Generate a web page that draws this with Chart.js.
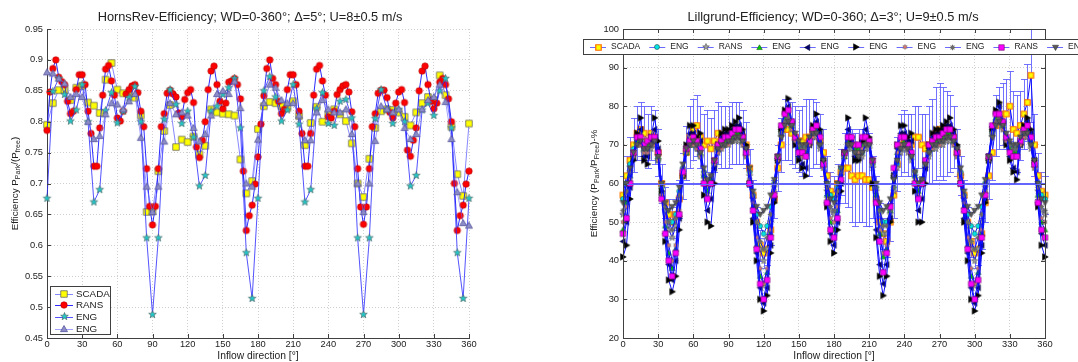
<!DOCTYPE html>
<html><head><meta charset="utf-8">
<script src="https://cdn.jsdelivr.net/npm/chart.js@4.4.1/dist/chart.umd.min.js"></script>
<style>
html,body{margin:0;padding:0;background:#fff;}
#wrap{position:relative;width:1078px;height:362px;overflow:hidden;background:#fff;}
#c1{position:absolute;left:0;top:0;}
#c2{position:absolute;left:540px;top:0;}
</style></head><body>
<div id="wrap"><canvas id="c1" width="540" height="362"></canvas><canvas id="c2" width="538" height="362"></canvas></div>
<script>
// ---------------- LEFT: Horns Rev ----------------
const leftTitle = 'HornsRev-Efficiency; WD=0-360°; Δ=5°; U=8±0.5 m/s';
const leftXLabel = 'Inflow direction [°]';
const leftLabels = ['SCADA', 'RANS', 'ENG', 'ENG'];
const leftYTicks = [0.45, 0.5, 0.55, 0.6, 0.65, 0.7, 0.75, 0.8, 0.85, 0.9, 0.95];
const xTicks = [0, 30, 60, 90, 120, 150, 180, 210, 240, 270, 300, 330, 360];

const dir5 = [0,5,10,15,20,25,30,35,40,45,50,55,60,65,70,75,80,85,90,95,100,105,110,115,120,125,130,135,140,145,150,155,160,165,170,175,180,
185,190,195,200,205,210,215,220,225,230,235,240,245,250,255,260,265,270,275,280,285,290,295,300,305,310,315,320,325,330,335,340,345,350,355,360];
const dir25 = [0,2.5,5,7.5,10,12.5,15,17.5,20,22.5,25,27.5,30,32.5,35,37.5,40,42.5,45,47.5,50,52.5,55,57.5,60,62.5,65,67.5,70,72.5,75,77.5,80,82.5,85,87.5,90,
92.5,95,97.5,100,102.5,105,107.5,110,112.5,115,117.5,120,122.5,125,127.5,130,132.5,135,137.5,140,142.5,145,147.5,150,152.5,155,157.5,160,162.5,165,167.5,170,172.5,175,177.5,180,
182.5,185,187.5,190,192.5,195,197.5,200,202.5,205,207.5,210,212.5,215,217.5,220,222.5,225,227.5,230,232.5,235,237.5,240,242.5,245,247.5,250,252.5,255,257.5,260,262.5,265,267.5,270,
272.5,275,277.5,280,282.5,285,287.5,290,292.5,295,297.5,300,302.5,305,307.5,310,312.5,315,317.5,320,322.5,325,327.5,330,332.5,335,337.5,340,342.5,345,347.5,350,352.5,355,357.5,360];

const hrScada = [0.795,0.830,0.851,0.851,0.835,0.855,0.858,0.831,0.826,0.814,0.868,0.895,0.852,0.846,0.845,0.839,0.810,0.654,0.655,0.720,0.785,0.827,0.759,0.771,0.767,0.776,0.747,0.761,0.820,0.815,0.813,0.812,0.810,0.739,0.684,0.704,0.788,
0.825,0.832,0.830,0.825,0.822,0.833,0.809,0.762,0.798,0.824,0.800,0.813,0.820,0.812,0.801,0.765,0.700,0.678,0.740,0.790,0.817,0.820,0.819,0.815,0.808,0.794,0.815,0.830,0.840,0.835,0.875,0.843,0.792,0.715,0.680,0.797];

const hrRans = [0.786,0.848,0.886,0.900,0.872,0.865,0.860,0.833,0.813,0.817,0.852,0.876,0.876,0.860,0.817,0.781,0.728,0.728,0.790,0.843,0.885,0.891,0.866,0.843,0.806,0.801,0.817,0.845,0.852,0.858,0.860,0.847,0.817,0.792,0.724,0.663,0.633,
0.663,0.724,0.792,0.813,0.846,0.851,0.845,0.840,0.814,0.808,0.836,0.847,0.852,0.831,0.759,0.742,0.770,0.800,0.852,0.882,0.890,0.860,0.833,0.821,0.830,0.864,0.866,0.870,0.860,0.837,0.720,0.624,0.648,0.665,0.699,0.743,
0.796,0.842,0.886,0.900,0.870,0.860,0.833,0.813,0.820,0.852,0.876,0.876,0.860,0.817,0.781,0.728,0.728,0.781,0.843,0.885,0.891,0.866,0.843,0.808,0.806,0.817,0.844,0.852,0.858,0.860,0.848,0.816,0.792,0.724,0.662,0.634,
0.662,0.724,0.792,0.813,0.846,0.851,0.851,0.839,0.815,0.806,0.830,0.848,0.852,0.831,0.754,0.744,0.770,0.790,0.850,0.882,0.890,0.860,0.833,0.821,0.830,0.864,0.870,0.860,0.837,0.800,0.700,0.624,0.648,0.665,0.699,0.720];

const hrEngStar = [0.676,0.849,0.870,0.844,0.801,0.819,0.860,0.800,0.670,0.690,0.818,0.847,0.798,0.817,0.839,0.857,0.800,0.612,0.488,0.612,0.804,0.852,0.828,0.797,0.817,0.775,0.696,0.713,0.817,0.825,0.844,0.855,0.870,0.790,0.588,0.514,0.676,
0.850,0.873,0.840,0.801,0.819,0.860,0.796,0.670,0.690,0.821,0.847,0.797,0.794,0.833,0.836,0.806,0.612,0.488,0.612,0.805,0.852,0.820,0.797,0.820,0.800,0.696,0.713,0.819,0.830,0.810,0.850,0.870,0.790,0.588,0.514,0.676];

const hrEngTri = [0.880,0.878,0.870,0.862,0.840,0.845,0.840,0.800,0.772,0.777,0.812,0.830,0.828,0.820,0.833,0.845,0.774,0.695,0.654,0.695,0.768,0.830,0.812,0.815,0.810,0.790,0.768,0.780,0.810,0.845,0.850,0.845,0.865,0.822,0.700,0.695,0.771,
0.830,0.860,0.855,0.835,0.830,0.830,0.810,0.770,0.770,0.815,0.835,0.820,0.815,0.815,0.820,0.780,0.700,0.654,0.700,0.769,0.825,0.820,0.815,0.820,0.790,0.772,0.780,0.820,0.835,0.840,0.860,0.832,0.772,0.686,0.636,0.632];

// ---------------- RIGHT: Lillgrund ----------------
const rightTitle = 'Lillgrund-Efficiency; WD=0-360; Δ=3°; U=9±0.5 m/s';
const rightXLabel = 'Inflow direction [°]';
const rightLabels = ['SCADA','ENG','RANS','ENG','ENG','ENG','ENG','ENG','RANS','ENG'];
const rightYTicks = [20, 30, 40, 50, 60, 70, 80, 90, 100];

const dir3 = [0,3,6,9,12,15,18,21,24,27,30,33,36,39,42,45,48,51,54,57,60,63,66,69,72,75,78,81,84,87,90,93,96,99,102,105,108,111,114,117,120,123,126,129,132,135,138,141,144,147,150,153,156,159,162,165,168,171,174,177,180,
183,186,189,192,195,198,201,204,207,210,213,216,219,222,225,228,231,234,237,240,243,246,249,252,255,258,261,264,267,270,273,276,279,282,285,288,291,294,297,300,303,306,309,312,315,318,321,324,327,330,333,336,339,342,345,348,351,354,357,360];

const lgScada = [57,62,66,70,73,74,73,71,73,72, 68,60,55,52,50,52,56,62,68,72, 74,75,72,70,71,69,71,73,72,72, 72,73,73,73,72,70,64,57,50,44, 42,43,48,56,64,70,74,74,73,72, 71,71,72,72,73,73,71,68,62,58, 57,
 60,63,64,64,62,61,62,62,61,61, 59,56,50,47,45,50,57,65,70,71, 70,70,72,72,70,69,70,71,73,74, 73,73,73,72,68,62,57,50,45,42, 43,47,55,62,68,75,77,78,78,80, 74,73,75,78,81,88,70,62,58,57];
const lgScadaErr = [5,5,6,7,7,7,7,7,7,7, 6,5,4,4,4,4,5,6,7,8, 8,8,8,8,8,8,8,8,8,8, 8,8,8,8,7,6,5,4,4,4, 4,4,4,5,6,7,8,8,8,8, 8,9,10,10,9,8,7,6,5,5, 5,
 5,6,9,10,12,12,12,12,12,12, 8,6,5,4,4,5,6,7,8,8, 8,8,8,8,8,9,10,11,12,12, 12,11,10,8,6,5,4,4,4,4, 4,4,5,6,7,8,8,8,9,9, 10,10,9,9,10,12,8,6,5,5];
const lgEngCircle = [56,60,65,69,71,71,69,69,70,71, 66,59,53,50,50,52,58,64,68,70, 70,69,67,63,60,61,65,69,70,70, 71,71,72,72,71,68,63,57,52,49, 47,49,54,60,67,73,76,77,75,72, 70,69,69,71,73,73,70,65,60,57, 56,
 59,64,68,70,70,68,67,68,70,70, 65,59,53,50,50,53,59,65,69,70, 69,67,63,60,61,65,68,69,70,71, 71,72,72,71,68,63,57,52,49,47, 49,54,60,67,73,76,77,75,72,70, 69,69,71,73,73,70,65,60,57,56];
const lgRansStar = [52,57,63,67,70,70,68,68,69,70, 66,59,53,48,46,49,56,63,68,70, 70,69,67,62,59,61,65,68,69,70, 70,71,71,71,70,67,62,56,49,43, 40,43,50,59,66,72,75,76,74,71, 69,68,68,70,72,72,69,64,58,53, 52,
 56,62,67,69,69,67,66,67,69,69, 64,58,52,47,47,52,58,64,68,69, 68,66,62,59,60,64,67,69,69,70, 70,71,71,70,67,62,56,49,43,40, 43,50,59,66,72,75,76,74,71,69, 68,68,70,72,72,69,64,58,53,52];
const lgEngGreen = [48,55,62,68,71,71,69,70,71,71, 67,58,49,42,38,43,52,62,68,70, 71,70,68,62,58,61,66,69,70,71, 71,72,73,73,71,68,61,54,44,36, 34,37,47,58,67,74,77,78,75,72, 69,68,68,71,73,74,71,65,57,50, 48,
 53,61,67,71,71,69,69,70,71,71, 66,57,47,41,43,53,62,68,70,71, 70,68,62,58,61,66,69,70,71,71, 72,73,73,71,68,61,54,44,36,34, 37,47,58,67,74,77,78,75,72,69, 68,68,71,73,74,71,65,57,50,48];
const lgEngLeft = [45,50,59,67,72,74,67,67,71,74, 69,57,47,39,35,40,51,62,69,73, 73,71,71,60,53,56,64,69,72,73, 73,74,75,75,73,69,60,51,42,33, 29,33,44,56,66,74,78,80,76,71, 67,65,64,70,74,76,73,66,55,47, 44,
 50,60,68,74,71,67,67,71,74,71, 60,48,39,34,39,51,62,69,73,73, 71,71,60,53,56,64,69,72,73,73, 74,75,75,73,69,60,51,42,33,29, 33,44,56,66,74,78,80,76,71,67, 64,63,70,74,76,73,66,55,47,44];
const lgEngRight = [41,44,56,66,73,77,66,65,72,77, 71,58,45,35,32,36,48,62,70,75, 75,72,73,57,50,49,60,70,73,74, 74,75,76,77,74,70,60,50,40,30, 27,31,42,55,66,74,79,82,76,70, 66,64,62,70,75,78,74,66,54,45, 42,
 48,58,68,77,72,66,66,71,77,72, 60,46,36,31,36,50,62,70,75,75, 72,73,58,50,50,60,70,73,74,74, 75,76,77,74,70,60,50,40,30,27, 31,42,55,66,74,79,81,76,70,66, 63,61,70,75,77,74,66,54,44,41];
const lgEngHex = [50,54,61,67,70,70,68,68,70,70, 66,57,50,44,40,44,53,62,68,70, 70,69,67,61,57,60,65,68,69,70, 70,71,72,72,70,67,61,55,46,38, 34,38,48,58,66,73,76,77,74,71, 68,67,67,70,72,73,70,64,56,51, 50,
 54,61,67,70,70,68,68,69,70,70, 65,56,48,42,44,54,62,68,70,70, 69,67,61,57,60,65,68,69,70,70, 71,72,72,70,67,61,55,46,38,34, 38,48,58,66,73,76,77,74,71,68, 67,67,70,72,73,70,64,56,51,50];
const lgEngGray = [53,58,63,68,70,71,69,69,70,71, 67,60,54,50,48,51,57,64,69,70, 71,70,68,63,60,62,66,69,70,70, 71,71,72,72,71,68,63,57,50,45, 43,46,52,60,67,73,76,77,75,72, 70,69,69,71,73,73,70,65,59,54, 53,
 58,63,68,70,70,68,67,68,70,70, 65,59,53,49,49,53,59,66,69,70, 69,67,63,60,61,65,68,70,70,71, 71,72,72,71,68,63,57,50,45,43, 46,52,60,67,73,76,77,75,72,70, 69,69,71,73,73,70,65,59,54,53];
const lgRansSquare = [47,51,60,68,72,72,70,71,72,72, 68,56,47,40,36,42,52,63,69,71, 72,71,69,60,56,60,66,70,71,72, 72,73,74,74,72,68,60,53,43,34, 30,35,46,57,67,75,78,79,76,72, 68,68,67,71,74,75,72,65,55,48, 46,
 51,61,68,72,72,70,70,72,72,71, 66,55,45,37,42,54,64,70,72,72, 70,68,60,56,60,66,70,71,72,72, 73,74,74,72,68,60,53,43,34,30, 35,46,57,67,75,78,78,76,72,68, 67,67,71,74,75,72,65,55,48,46];
const lgEngDown = [55,60,64,68,70,71,69,69,70,71, 67,60,55,53,54,55,59,65,69,70, 71,70,68,64,61,62,66,69,70,70, 71,71,72,72,71,69,64,58,54,52, 53,54,57,61,67,72,75,76,75,73, 71,70,70,72,73,73,70,66,60,56, 55,
 60,64,68,70,70,68,67,68,70,70, 66,60,55,53,54,56,61,66,69,70, 69,67,63,60,61,65,68,70,70,71, 71,72,72,71,69,64,58,54,52,53, 54,57,61,67,72,75,76,75,73,71, 70,70,72,73,73,70,66,60,56,55];
const refLineX = [0, 360];
const refLineY = [60, 60];

// ---------------- helpers ----------------
const FONT = '"Liberation Sans", Arial, Helvetica, sans-serif';
const TXT = '#222222';
const REFCOL = '#6464ff';
const fnt = s => s + 'px ' + FONT;
Chart.defaults.font.family = FONT;

function mk(shape, size, fill, stroke, lw) {
  const S = Math.ceil(size) + 3;
  const c = document.createElement('canvas'); c.width = S; c.height = S;
  const g = c.getContext('2d'); const m = S / 2, r = size / 2;
  g.beginPath();
  const poly = p => { p.forEach((q, i) => i ? g.lineTo(m + q[0], m + q[1]) : g.moveTo(m + q[0], m + q[1])); g.closePath(); };
  const star = (n, inner) => { const a = []; for (let k = 0; k < 2 * n; k++) { const ang = -Math.PI / 2 + k * Math.PI / n; const rr = k % 2 ? r * inner : r; a.push([rr * Math.cos(ang), rr * Math.sin(ang)]); } poly(a); };
  switch (shape) {
    case 'square': g.rect(m - r, m - r, size, size); break;
    case 'circle': g.arc(m, m, r, 0, 2 * Math.PI); break;
    case 'triUp': poly([[0, -r], [r, r * 0.75], [-r, r * 0.75]]); break;
    case 'triDown': poly([[0, r], [r, -r * 0.75], [-r, -r * 0.75]]); break;
    case 'triLeft': poly([[-r, 0], [r * 0.75, -r], [r * 0.75, r]]); break;
    case 'triRight': poly([[r, 0], [-r * 0.75, -r], [-r * 0.75, r]]); break;
    case 'star5': star(5, 0.42); break;
    case 'star6': star(6, 0.55); break;
    case 'asterisk':
      for (let k = 0; k < 4; k++) { const a = k * Math.PI / 4; g.moveTo(m - r * Math.cos(a), m - r * Math.sin(a)); g.lineTo(m + r * Math.cos(a), m + r * Math.sin(a)); }
      break;
  }
  if (fill) { g.fillStyle = fill; g.fill(); }
  if (stroke) { g.strokeStyle = stroke; g.lineWidth = lw || 1; g.stroke(); }
  return c;
}
const pts = (xs, ys) => xs.map((x, i) => ({ x: x, y: ys[i] }));

function drawRotated(ctx, cx, cy, parts, size) {
  ctx.save();
  ctx.translate(cx, cy); ctx.rotate(-Math.PI / 2);
  ctx.fillStyle = TXT; ctx.textBaseline = 'middle'; ctx.textAlign = 'left';
  const sub = size * 0.72; let total = 0;
  const w = parts.map(p => { ctx.font = fnt(p.sub ? sub : size); const m = ctx.measureText(p.t).width; total += m; return m; });
  let x = -total / 2;
  parts.forEach((p, i) => { ctx.font = fnt(p.sub ? sub : size); ctx.fillText(p.t, x, p.sub ? size * 0.35 : 0); x += w[i]; });
  ctx.restore();
}

const decoCfg = {};

const decor = {
  id: 'decor',
  beforeDatasetsDraw(chart) {
    const o = decoCfg[chart.canvas.id]; if (!o || !o.errors) return;
    const e = o.errors, ctx = chart.ctx, xs = chart.scales.x, ys = chart.scales.y;
    ctx.save(); ctx.setLineDash([]); ctx.strokeStyle = e.color; ctx.lineWidth = 1;
    for (let i = 0; i < e.x.length; i++) {
      const px = Math.round(xs.getPixelForValue(e.x[i])) + 0.5;
      const t = Math.round(ys.getPixelForValue(e.y[i] + e.err[i])) + 0.5;
      const b = Math.round(ys.getPixelForValue(e.y[i] - e.err[i])) + 0.5;
      ctx.beginPath();
      ctx.moveTo(px, t); ctx.lineTo(px, b);
      ctx.moveTo(px - 3.5, t); ctx.lineTo(px + 3.5, t);
      ctx.moveTo(px - 3.5, b); ctx.lineTo(px + 3.5, b);
      ctx.stroke();
    }
    ctx.restore();
  },
  afterDatasetsDraw(chart) {
    const o = decoCfg[chart.canvas.id]; if (!o || o.refIndex === undefined) return;
    // re-stroke the reference line from the library's own point elements
    const meta = chart.getDatasetMeta(o.refIndex);
    if (!meta || !meta.data || meta.data.length < 2) return;
    const ctx = chart.ctx;
    ctx.save(); ctx.setLineDash([]); ctx.strokeStyle = REFCOL; ctx.lineWidth = 1;
    ctx.beginPath();
    meta.data.forEach((p, i) => { const y = Math.round(p.y) + 0.5; i ? ctx.lineTo(p.x, y) : ctx.moveTo(p.x, y); });
    ctx.stroke(); ctx.restore();
  },
  afterDraw(chart) {
    const o = decoCfg[chart.canvas.id]; if (!o) return;
    const ctx = chart.ctx, a = chart.chartArea, xs = chart.scales.x, ys = chart.scales.y;
    ctx.save();
    ctx.setLineDash([]);
    ctx.strokeStyle = '#404040'; ctx.lineWidth = 1;
    xs.ticks.forEach(t => { const p = Math.round(xs.getPixelForValue(t.value)) + 0.5;
      ctx.beginPath(); ctx.moveTo(p, a.bottom); ctx.lineTo(p, a.bottom - 4); ctx.stroke();
      if (o.box) { ctx.beginPath(); ctx.moveTo(p, a.top); ctx.lineTo(p, a.top + 4); ctx.stroke(); } });
    ys.ticks.forEach(t => { const p = Math.round(ys.getPixelForValue(t.value)) + 0.5;
      ctx.beginPath(); ctx.moveTo(a.left, p); ctx.lineTo(a.left + 4, p); ctx.stroke();
      if (o.box) { ctx.beginPath(); ctx.moveTo(a.right, p); ctx.lineTo(a.right - 4, p); ctx.stroke(); } });
    if (o.box) { ctx.strokeRect(Math.round(a.left) + 0.5, Math.round(a.top) + 0.5, Math.round(a.right - a.left), Math.round(a.bottom - a.top)); }
    ctx.fillStyle = TXT; ctx.font = fnt(o.title.size); ctx.textAlign = 'center'; ctx.textBaseline = 'middle';
    ctx.fillText(o.title.text, o.title.x, o.title.y);
    drawRotated(ctx, o.ytitle.x, (a.top + a.bottom) / 2, o.ytitle.parts, o.ytitle.size);
    const L = o.legend;
    ctx.fillStyle = '#fff'; ctx.fillRect(L.x, L.y, L.w, L.h);
    ctx.strokeStyle = '#404040'; ctx.lineWidth = 1; ctx.strokeRect(L.x + 0.5, L.y + 0.5, L.w, L.h);
    ctx.font = fnt(L.size); ctx.textAlign = 'left'; ctx.textBaseline = 'middle';
    if (L.vertical) {
      L.items.forEach((it, i) => {
        const y = L.y + L.first + i * L.step, yl = Math.round(y) + 0.5;
        ctx.strokeStyle = it.line; ctx.beginPath(); ctx.moveTo(L.x + 5, yl); ctx.lineTo(L.x + 23, yl); ctx.stroke();
        ctx.drawImage(it.marker, Math.round(L.x + 14 - it.marker.width / 2), Math.round(y - it.marker.height / 2));
        ctx.fillStyle = TXT; ctx.fillText(it.label, L.x + 26, y + 0.5);
      });
    } else {
      let cx = L.x + L.start; const y = L.y + L.h / 2 + 0.5, yl = Math.round(y) + 0.5;
      L.items.forEach(it => {
        ctx.strokeStyle = it.line; ctx.beginPath(); ctx.moveTo(cx, yl); ctx.lineTo(cx + 16, yl); ctx.stroke();
        ctx.drawImage(it.marker, Math.round(cx + 8 - it.marker.width / 2), Math.round(y - it.marker.height / 2));
        ctx.fillStyle = TXT; ctx.fillText(it.label, cx + 21, y);
        cx += 21 + ctx.measureText(it.label).width + 9;
      });
    }
    ctx.restore();
  }
};

function baseScales(xlabel, ymin, ymax, ystep, yw, yfmt) {
  const gridCol = '#d0d0d0';
  return {
    x: { type: 'linear', min: 0, max: 360,
      ticks: { stepSize: 30, autoSkip: false, maxRotation: 0, padding: 1, font: { size: 9.3 }, color: TXT },
      grid: { color: gridCol, drawTicks: false, lineWidth: 1 },
      border: { display: true, color: '#404040', width: 1, dash: [1, 2] },
      title: { display: true, text: xlabel, font: { size: 10.3 }, color: TXT, padding: { top: 0, bottom: 0 } },
      afterFit: s => { s.height = 24; } },
    y: { type: 'linear', min: ymin, max: ymax,
      ticks: { stepSize: ystep, padding: 4, font: { size: 9.3 }, color: TXT, callback: yfmt },
      grid: { color: gridCol, drawTicks: false, lineWidth: 1 },
      border: { display: true, color: '#404040', width: 1, dash: [1, 2] },
      afterFit: s => { s.width = yw; } }
  };
}

// ---- left chart ----
const mL = {
  scada: mk('square', 6.5, '#ffff00', '#666666', 0.8),
  rans: mk('circle', 6.5, '#ff0000', '#b00000', 0.6),
  star: mk('star5', 8, '#22c8c8', '#4a6a6a', 0.7),
  tri: mk('triUp', 7, '#8c8cc8', '#55559a', 0.8)
};
const lineL = { scada: 'rgba(70,70,255,0.65)', rans: 'rgba(20,20,255,0.9)', star: 'rgba(40,40,255,0.8)', tri: 'rgba(100,100,255,0.6)' };
const dsL = (label, xs, ys, marker, col) => ({ label, data: pts(xs, ys), borderColor: col, borderWidth: 1, pointStyle: marker, pointRadius: 3.5, tension: 0, clip: false, fill: false });

decoCfg.c1 = {
  box: false,
  title: { text: leftTitle, x: 250, y: 17, size: 12.8 },
  ytitle: { x: 15, size: 9.8, parts: [{ t: 'Efficiency P' }, { t: 'Park', sub: true }, { t: '/(P' }, { t: 'free', sub: true }, { t: ')' }] },
  legend: { vertical: true, x: 50, y: 286, w: 60, h: 48, first: 7.5, step: 11.7, size: 9.8,
    items: [
      { label: leftLabels[0], marker: mL.scada, line: lineL.scada },
      { label: leftLabels[1], marker: mL.rans, line: lineL.rans },
      { label: leftLabels[2], marker: mL.star, line: lineL.star },
      { label: leftLabels[3], marker: mL.tri, line: lineL.tri }
    ] }
};

new Chart(document.getElementById('c1'), {
  type: 'line',
  data: { datasets: [
    dsL(leftLabels[3], dir5, hrEngTri, mL.tri, lineL.tri),
    dsL(leftLabels[2], dir5, hrEngStar, mL.star, lineL.star),
    dsL(leftLabels[1], dir25, hrRans, mL.rans, lineL.rans),
    dsL(leftLabels[0], dir5, hrScada, mL.scada, lineL.scada)
  ] },
  options: {
    responsive: false, animation: false, devicePixelRatio: 1, events: [],
    layout: { padding: { left: 0, right: 71, top: 29, bottom: 0 } },
    scales: baseScales(leftXLabel, leftYTicks[0], leftYTicks[leftYTicks.length - 1], 0.05, 47, v => String(parseFloat(Number(v).toFixed(2)))),
    plugins: { legend: { display: false }, tooltip: { enabled: false } }
  },
  plugins: [decor]
});

// ---- right chart ----
const mR = [
  mk('square', 5.5, '#ffff00', '#ff6a00', 1.2),
  mk('circle', 5, '#00e5e5', '#2a4a4a', 0.6),
  mk('star5', 7, '#a0a0a0', '#505050', 0.6),
  mk('triUp', 5.5, '#00cc00', '#1c5a1c', 0.6),
  mk('triLeft', 6, '#00006e', '#000030', 0.6),
  mk('triRight', 6.5, '#000000', '#000000', 0.6),
  mk('star6', 5, '#e07070', '#707070', 0.6),
  mk('asterisk', 5.5, null, '#6a6a6a', 1.1),
  mk('square', 5.5, '#ff00ff', '#6a006a', 0.6),
  mk('triDown', 6, '#5a5a5a', '#333333', 0.6)
];
const seriesR = [lgScada, lgEngCircle, lgRansStar, lgEngGreen, lgEngLeft, lgEngRight, lgEngHex, lgEngGray, lgRansSquare, lgEngDown];
const lineR = '#0a0aff';
const dsR = seriesR.map((ys, i) => ({ label: rightLabels[i], data: pts(dir3, ys), borderColor: lineR, borderWidth: 1, pointStyle: mR[i], pointRadius: 3, tension: 0, clip: false, fill: false }));
dsR.reverse();
dsR.push({ label: 'ref', data: pts(refLineX, refLineY), borderColor: REFCOL, borderWidth: 1, pointRadius: 0, tension: 0, fill: false });

decoCfg.c2 = {
  box: true,
  refIndex: dsR.length - 1,
  errors: { x: dir3, y: lgScada, err: lgScadaErr, color: 'rgba(90,90,255,0.85)' },
  title: { text: rightTitle, x: 293, y: 17, size: 12.8 },
  ytitle: { x: 54, size: 9.8, parts: [{ t: 'Efficiency (P' }, { t: 'Park', sub: true }, { t: '/P' }, { t: 'Free', sub: true }, { t: ')-%' }] },
  legend: { vertical: false, x: 43, y: 39, w: 560, h: 15, start: 7, size: 8.5,
    items: rightLabels.map((l, i) => ({ label: l, marker: mR[i], line: 'rgba(90,90,255,0.9)' })) }
};

new Chart(document.getElementById('c2'), {
  type: 'line',
  data: { datasets: dsR },
  options: {
    responsive: false, animation: false, devicePixelRatio: 1, events: [],
    layout: { padding: { left: 0, right: 33, top: 29, bottom: 0 } },
    scales: baseScales(rightXLabel, rightYTicks[0], rightYTicks[rightYTicks.length - 1], 10, 83, v => String(v)),
    plugins: { legend: { display: false }, tooltip: { enabled: false } }
  },
  plugins: [decor]
});
</script>
</body></html>
